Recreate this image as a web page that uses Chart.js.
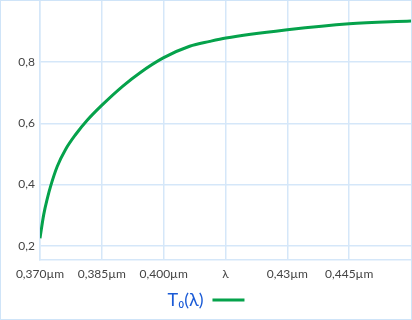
<!DOCTYPE html>
<html>
<head>
<meta charset="utf-8">
<script src="https://cdn.jsdelivr.net/npm/chart.js@4"></script>
<style>
    html, body { margin: 0; padding: 0; background: #fff; }
    #wrap {
        width: 412px; height: 320px; box-sizing: border-box;
        border: 1px solid #cfe4f8; position: relative;
    }
</style>
</head>
<body>
<div id="wrap"><canvas id="chart"></canvas></div>
<script>
// wavelength (µm) and transmission values
var wavelengths = [0.3700, 0.3709, 0.3718, 0.3726, 0.3742, 0.3762, 0.3786, 0.3815, 0.3849, 0.3901,
                   0.3942, 0.3999, 0.4063, 0.4112, 0.4151, 0.4300, 0.4450, 0.4600];
var transmission = [0.225, 0.302, 0.356, 0.396, 0.460, 0.515, 0.563, 0.611, 0.658, 0.722,
                    0.765, 0.814, 0.852, 0.868, 0.879, 0.906, 0.926, 0.935];
var xTickValues = [0.370, 0.385, 0.400, 0.415, 0.430, 0.445];
var xTickLabels = ['0,370µm', '0,385µm', '0,400µm', 'λ', '0,43µm', '0,445µm'];
var yTickValues = [0.2, 0.4, 0.6, 0.8];
var yTickLabels = ['0,2', '0,4', '0,6', '0,8'];
var seriesName = 'T₀(λ)';

document.addEventListener('DOMContentLoaded', () => {
    "use strict";

    var points = wavelengths.map(function(w, i) {
        return { x: w, y: transmission[i] };
    });
    var gridColor = '#d5e7f9';

    var ctx = document.getElementById('chart').getContext('2d');
    new Chart(ctx, {
        type: 'line',
        data: {
            datasets: [{
                label: seriesName,
                data: points,
                borderColor: '#05a24b',
                backgroundColor: '#05a24b',
                borderWidth: 3,
                pointRadius: 0,
                pointStyle: 'line',
                cubicInterpolationMode: 'monotone'
            }]
        },
        options: {
            responsive: true,
            maintainAspectRatio: false,
            animation: false,
            layout: { padding: 0 },
            plugins: {
                tooltip: { enabled: false },
                legend: {
                    position: 'bottom',
                    rtl: true,
                    labels: {
                        color: '#1b5bd6',
                        font: { family: 'Lato', size: 18 },
                        usePointStyle: true,
                        pointStyle: 'line',
                        pointStyleWidth: 32,
                        boxHeight: 3,
                        padding: 3
                    }
                }
            },
            scales: {
                x: {
                    type: 'linear',
                    min: 0.370,
                    max: 0.460,
                    afterBuildTicks: function(axis) {
                        axis.ticks = xTickValues.map(function(v) { return { value: v }; });
                    },
                    afterFit: function(axis) { axis.paddingRight = 0; },
                    ticks: {
                        autoSkip: false,
                        maxRotation: 0,
                        padding: 7,
                        color: '#444',
                        font: { family: 'Lato', size: 12 },
                        callback: function(value, index) { return xTickLabels[index]; }
                    },
                    grid: { color: gridColor, lineWidth: 1.5, drawTicks: false },
                    border: { color: gridColor, width: 1.5 }
                },
                y: {
                    min: 0.155,
                    max: 1.0,
                    afterBuildTicks: function(axis) {
                        axis.ticks = yTickValues.map(function(v) { return { value: v }; });
                    },
                    afterFit: function(axis) {
                        axis.width = 39;
                        axis.paddingTop = 0;
                        axis.paddingBottom = 0;
                    },
                    ticks: {
                        padding: 5,
                        color: '#444',
                        font: { family: 'Lato', size: 12 },
                        callback: function(value, index) { return yTickLabels[index]; }
                    },
                    grid: { color: gridColor, lineWidth: 1.5, drawTicks: false },
                    border: { color: gridColor, width: 1.5 }
                }
            }
        }
    });
});
</script>
</body>
</html>
